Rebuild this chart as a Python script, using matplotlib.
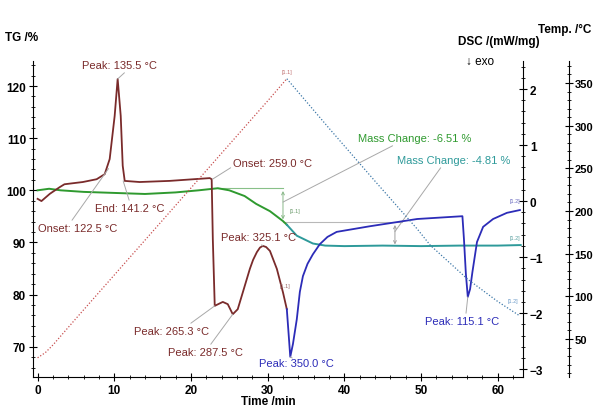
import numpy as np
import matplotlib
matplotlib.use('Agg')
import matplotlib.pyplot as plt
from matplotlib.ticker import MultipleLocator

plt.rcParams['font.family'] = ['Liberation Sans', 'DejaVu Sans']

# DSC, heating segment [1.1] (mW/mg vs min)
heat_t = [0, 0.5, 1.6, 2.9, 3.5, 5.9, 7.7, 8.75, 9.4, 10.05, 10.44, 10.84, 11.1, 11.36,
          13.3, 17.2, 22.45, 22.7, 22.85, 23.1, 24.15, 24.8, 25.45, 26.1, 26.76, 27.68,
          28.1, 28.6, 29.0, 29.37, 29.8, 30.3, 31.2, 32.0, 32.5]
heat_dsc = [0.04, 0.0, 0.13, 0.25, 0.30, 0.34, 0.39, 0.48, 0.75, 1.52, 2.18, 1.52, 0.63, 0.36,
            0.34, 0.36, 0.41, 0.39, -0.68, -1.87, -1.80, -1.84, -2.02, -1.93, -1.63, -1.21,
            -1.05, -0.91, -0.83, -0.80, -0.82, -0.89, -1.21, -1.63, -1.93]

# DSC, cooling segment [1.2]
cool_t = [32.5, 32.75, 32.95, 33.3, 33.8, 34.2, 34.6, 35.2, 35.9, 36.8, 37.8, 39.0, 43.3,
          49.5, 55.4, 55.6, 55.85, 56.1, 56.4, 56.7, 57.3, 58.1, 59.4, 61.2, 62.9]
cool_dsc = [-1.93, -2.40, -2.78, -2.55, -2.11, -1.62, -1.34, -1.12, -0.95, -0.77, -0.64,
            -0.55, -0.45, -0.32, -0.27, -0.68, -1.30, -1.71, -1.57, -1.27, -0.73, -0.46,
            -0.32, -0.21, -0.16]
PK_1355, PK_2653, PK_2875, PK_3251 = 10, 19, 22, 29
PK_3500, PK_1151 = 2, 17

# TG (%)
tg_heat_t = [0, 1.5, 3, 6, 10, 14, 18, 21, 23.5, 25, 27, 28.5, 30.3, 32.0, 32.5]
tg_heat = [100.0, 100.3, 100.0, 99.7, 99.5, 99.3, 99.6, 100.0, 100.4, 100.0, 98.9, 97.4,
           96.0, 94.1, 93.4]
tg_cool_t = [32.5, 33.8, 35.9, 37.5, 40, 45, 50, 55, 60, 63]
tg_cool = [93.4, 91.3, 89.8, 89.4, 89.3, 89.4, 89.3, 89.4, 89.4, 89.5]

# Temperature program (degC)
temp_heat_t = [0, 1, 2, 5, 10, 15, 20, 25, 30, 32.5]
temp_heat = [28, 34, 43, 74, 125, 176, 227, 278, 329, 355]
temp_cool_t = [32.5, 38.1, 44, 49.5, 51.2, 56.1, 60, 62.9]
temp_cool = [355, 296, 235, 179, 160, 120, 94, 77]

# mass change evaluation
mc_start = 100.4
mass_change_1 = -6.51
mass_change_2 = -4.81

c_brown = '#7a2b2b'
c_blue = '#2c2cb8'
c_green = '#2f9a2f'
c_teal = '#2e9a9a'
c_gray = '#a8a8a8'

fig = plt.figure(figsize=(5.95, 4.10), dpi=100)
ax = fig.add_axes([33 / 595, 32 / 410, 490 / 595, 316 / 410])
ax2 = ax.twinx()
ax3 = ax.twinx()

# temperature
ax3.plot(temp_heat_t, temp_heat, color='#c85050', linestyle=(0, (1, 1.5)), linewidth=0.9)
ax3.plot(temp_cool_t, temp_cool, color='#3d78a8', linestyle=(0, (1, 1.5)), linewidth=0.9)

# TG
ax.plot(tg_heat_t, tg_heat, color=c_green, linewidth=1.4, zorder=3)
ax.plot(tg_cool_t, tg_cool, color=c_teal, linewidth=1.4, zorder=3)

# DSC
ax2.plot(heat_t, heat_dsc, color=c_brown, linewidth=1.3)
ax2.plot(cool_t, cool_dsc, color=c_blue, linewidth=1.3)

# mass change brackets
lvl1 = mc_start + mass_change_1
lvl2 = lvl1 + mass_change_2
ax.plot([23.5, 32.0], [mc_start, mc_start], color='#88c088', linewidth=0.8)
ax.annotate('', xy=(32.0, lvl1), xytext=(32.0, mc_start),
            arrowprops=dict(arrowstyle='<->', color='#88b888', lw=0.7, mutation_scale=5))
ax.plot([32.0, 47.5], [lvl1, lvl1], color='#b8b8b8', linewidth=0.8)
ax.annotate('', xy=(46.6, lvl2), xytext=(46.6, lvl1),
            arrowprops=dict(arrowstyle='<->', color='#a0a0a0', lw=0.7, mutation_scale=5))

ax.set_xlim(-0.6, 63.3)
ax.set_ylim(64.2, 124.8)
ax2.set_ylim(-3.14, 2.5)
ax3.set_ylim(5.5, 375.8)

ax.xaxis.set_major_locator(MultipleLocator(10))
ax.xaxis.set_minor_locator(MultipleLocator(2))
ax.yaxis.set_major_locator(MultipleLocator(10))
ax.yaxis.set_minor_locator(MultipleLocator(2))
ax2.yaxis.set_major_locator(MultipleLocator(1))
ax2.yaxis.set_minor_locator(MultipleLocator(0.2))
ax3.yaxis.set_minor_locator(MultipleLocator(10))
ax3.set_yticks([50, 100, 150, 200, 250, 300, 350])

for a in (ax, ax2, ax3):
    a.tick_params(which='major', direction='inout', length=6, width=0.8, labelsize=8.5, pad=2)
    a.tick_params(which='minor', direction='inout', length=3, width=0.6)
    for s in a.spines.values():
        s.set_visible(False)
ax3.tick_params(which='major', labelsize=8, pad=1)
ax.spines['left'].set_visible(True)
ax.spines['bottom'].set_visible(True)
ax2.spines['right'].set_visible(True)
ax3.spines['right'].set_visible(True)
ax3.spines['right'].set_position(('axes', (569 - 33) / 490))
for a in (ax, ax2, ax3):
    for lab in a.get_xticklabels() + a.get_yticklabels():
        lab.set_fontweight('bold')

# axis titles
fig.text(22 / 595, 1 - 38 / 410, 'TG /%', fontsize=8.5, fontweight='bold', ha='center', va='center')
fig.text(499 / 595, 1 - 42 / 410, 'DSC /(mW/mg)', fontsize=8.5, fontweight='bold', ha='center', va='center')
fig.text(591 / 595, 1 - 30 / 410, 'Temp. /°C', fontsize=8.5, fontweight='bold', ha='right', va='center')
fig.text(268 / 595, 1 - 402 / 410, 'Time /min', fontsize=8.5, fontweight='bold', ha='center', va='center')
fig.text(480 / 595, 1 - 62 / 410, '↓ exo', fontsize=8.5, ha='center', va='center')


def note(axis, text, xy, px, color, relpos=(0.5, 0.5)):
    axis.annotate(text, xy=xy, xytext=(px[0], 410 - px[1]), textcoords='figure pixels',
                  ha='center', va='center', fontsize=8, color=color,
                  arrowprops=dict(arrowstyle='-', color=c_gray, lw=0.7, shrinkA=0, shrinkB=0,
                                  relpos=relpos))


note(ax2, 'Peak: 135.5 °C', (heat_t[PK_1355], heat_dsc[PK_1355]), (120, 66), c_brown, (0.6, 0.0))
note(ax2, 'Onset: 122.5 °C', (heat_t[8] - 0.15, heat_dsc[7] + 0.1), (78, 229), c_brown, (0.4, 1.0))
note(ax2, 'End: 141.2 °C', (heat_t[13] - 0.2, heat_dsc[13]), (130, 209), c_brown, (0.5, 1.0))
note(ax2, 'Onset: 259.0 °C', (heat_t[17] + 0.1, heat_dsc[17]), (273, 164), c_brown, (0.0, 0.2))
note(ax2, 'Peak: 325.1 °C', (heat_t[PK_3251], heat_dsc[PK_3251]), (259, 238), c_brown, (0.5, 0.0))
note(ax2, 'Peak: 265.3 °C', (heat_t[PK_2653], heat_dsc[PK_2653]), (172, 332), c_brown, (0.7, 1.0))
note(ax2, 'Peak: 287.5 °C', (heat_t[PK_2875], heat_dsc[PK_2875]), (205, 353), c_brown, (0.55, 1.0))
note(ax2, 'Peak: 350.0 °C', (cool_t[PK_3500], cool_dsc[PK_3500]), (296, 364), c_blue, (0.45, 1.0))
note(ax2, 'Peak: 115.1 °C', (cool_t[PK_1151], cool_dsc[PK_1151]), (462, 322), c_blue, (0.55, 1.0))
note(ax, 'Mass Change: -6.51 %', (32.0, (mc_start + lvl1) / 2 + 0.6), (415, 139), c_green, (0.35, 0.0))
note(ax, 'Mass Change: -4.81 %', (46.6, (lvl1 + lvl2) / 2 + 0.6), (454, 161), c_teal, (0.4, 0.0))

# segment tags
tag_kw = dict(fontsize=4, ha='center', va='center')
ax3.text(temp_heat_t[-1], temp_heat[-1] + 8, '[1.1]', color='#c07070', **tag_kw)
ax.text(33.6, lvl1 + 2.3, '[1.1]', color='#6a9a6a', **tag_kw)
ax2.text(32.2, heat_dsc[-2] + 0.12, '[1.1]', color='#9a6a6a', **tag_kw)
ax2.text(62.3, cool_dsc[-1] + 0.17, '[1.2]', color='#6a6ac0', **tag_kw)
ax.text(62.3, tg_cool[-1] + 1.5, '[1.2]', color='#5aa0a0', **tag_kw)
ax3.text(62.0, temp_cool[-1] + 18, '[1.2]', color='#6a9ac8', **tag_kw)

fig.savefig('out.png', dpi=100)
